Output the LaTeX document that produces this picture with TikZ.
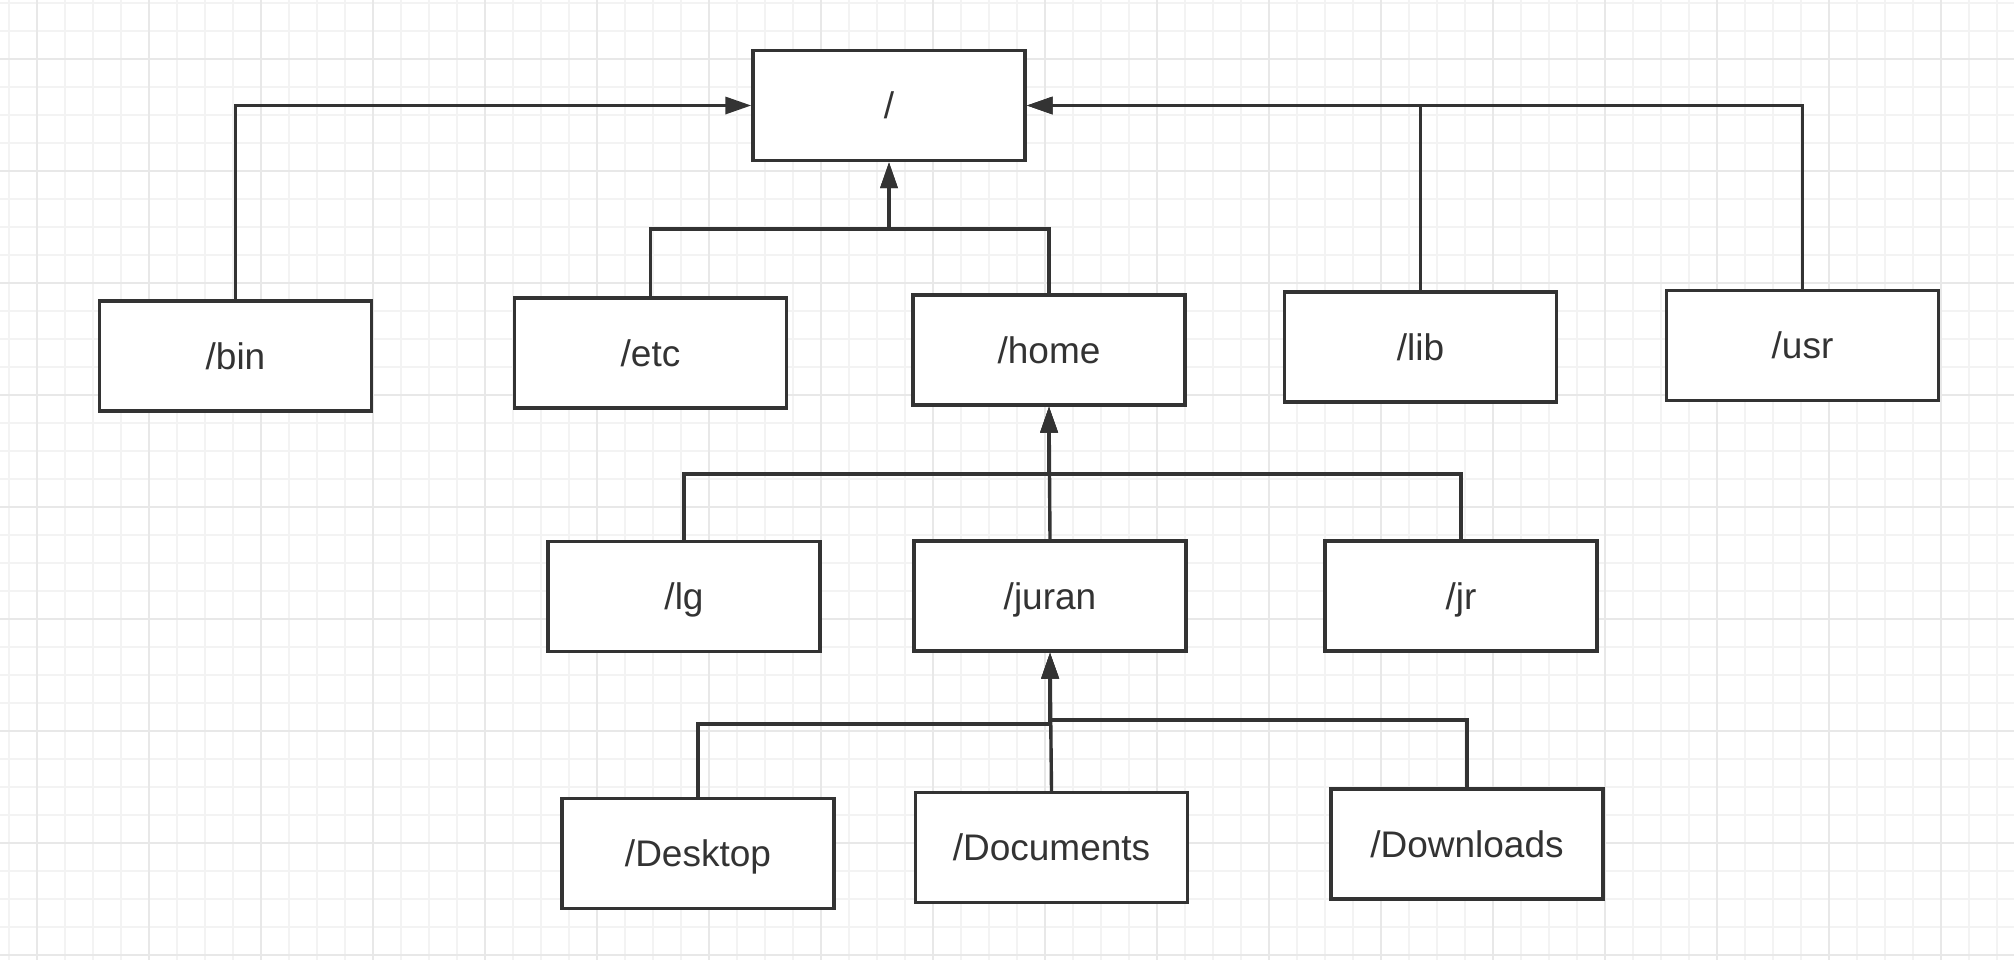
\documentclass[tikz,border=0pt]{standalone}
\usepackage{fontspec}
\setmainfont{Liberation Sans}
\usetikzlibrary{arrows.meta}
\definecolor{ink}{HTML}{333333}
\definecolor{gridminor}{HTML}{F3F3F3}
\definecolor{gridmajor}{HTML}{E8E8E8}
\begin{document}
\begin{tikzpicture}[x=0.5pt,y=-0.5pt,
  box/.style={draw=ink,line width=1.7pt,fill=white,minimum width=136pt,minimum height=55pt,inner sep=0pt,text=ink,font=\fontsize{18.5pt}{22pt}\selectfont,text height=13.5pt,text depth=0.3pt},
  link/.style={draw=ink,line width=1.7pt,-{Triangle[length=13pt,width=8.5pt]}}]
\fill[white] (0,0) rectangle (2014,960);
\useasboundingbox (0,0) rectangle (2014,960);
\foreach \k in {0,...,71} {\draw[gridminor,line width=0.6pt] ({9+28*\k},0) -- ({9+28*\k},960);}
\foreach \k in {0,...,34} {\draw[gridminor,line width=0.6pt] (0,{3+28*\k}) -- (2014,{3+28*\k});}
\foreach \k in {0,...,17} {\draw[gridmajor,line width=0.9pt] ({37+112*\k},0) -- ({37+112*\k},960);}
\foreach \k in {0,...,8} {\draw[gridmajor,line width=0.9pt] (0,{59+112*\k}) -- (2014,{59+112*\k});}

\node[box] (root) at (889,105.5) {/};
\node[box] (bin) at (235.5,356) {/bin};
\node[box] (etc) at (650.5,353) {/etc};
\node[box] (home) at (1049,350) {/home};
\node[box] (lib) at (1420.5,347) {/lib};
\node[box] (usr) at (1802.5,345.5) {/usr};
\node[box] (lg) at (684,596.5) {/lg};
\node[box] (juran) at (1050,596) {/juran};
\node[box] (jr) at (1461,596) {/jr};
\node[box] (desk) at (698,853.5) {/Desktop};
\node[box] (docs) at (1051.5,847.5) {/Documents};
\node[box] (down) at (1467,844) {/Downloads};

\coordinate (jroot) at (889,229);
\coordinate (jhome) at (1049,474);
\coordinate (jjuranL) at (1050,724);
\coordinate (jjuranR) at (1050,720);

\draw[link] (bin.north) |- (root.west);
\draw[link] (lib.north) |- (root.east);
\draw[link] (usr.north) |- (root.east);
\draw[link] (etc.north) |- (jroot) -- (root.south);
\draw[link] (home.north) |- (jroot) -- (root.south);
\draw[link] (lg.north) |- (jhome) -- (home.south);
\draw[link] (juran.north) -- (home.south);
\draw[link] (jr.north) |- (jhome) -- (home.south);
\draw[link] (desk.north) |- (jjuranL) -- (juran.south);
\draw[link] (docs.north) -- (juran.south);
\draw[link] (down.north) |- (jjuranR) -- (juran.south);
\end{tikzpicture}
\end{document}
